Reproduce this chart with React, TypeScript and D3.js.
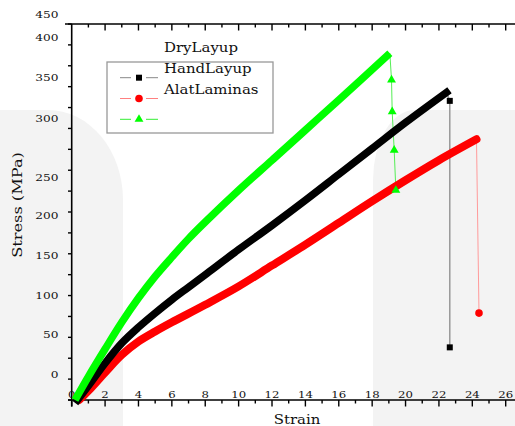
import React from "react";
import * as d3 from "d3";

// ---- data ----
const strainTicks = d3.range(0, 27, 1);
const strainLabels = d3.range(0, 27, 2);
const stressTicks = d3.range(0, 451, 25);
const stressLabels = [0, 50, 100, 150, 200, 250, 300, 350, 400, 450];
const legendLabels = ["DryLayup", "HandLayup", "AlatLaminas"];

// [strain, stress]
const greenCurve: [number, number][] = [
  [0.2, 0], [1, 28], [2, 61], [3, 93], [4, 122], [5, 148], [6, 171], [7, 193],
  [8, 213], [10, 251], [12, 287], [14, 323], [16, 359], [19.06, 415],
];
const greenTail: [number, number][] = [
  [19.16, 383], [19.2, 345], [19.32, 299], [19.42, 251],
];
const blackCurve: [number, number][] = [
  [0.35, 0], [1, 17], [2, 44], [3, 68], [4, 87], [5, 104], [6, 120], [7, 135],
  [8, 150], [10, 180], [12, 209], [14, 239], [16, 270], [18, 301], [20, 332],
  [22.45, 368],
];
const blackTail: [number, number][] = [[22.65, 358], [22.65, 63]];
const redCurve: [number, number][] = [
  [0.45, 0], [1, 11], [2, 33], [3, 54], [4, 70], [5, 82], [6, 93], [8, 114],
  [10, 136], [12, 161], [14, 186], [16, 212], [18, 238], [20, 263], [22, 287],
  [24.25, 312],
];
const redTail: [number, number][] = [[24.4, 104]];

const FONT = "'DejaVu Serif', serif";

function SText({ x, y, sx = 1, size, anchor = "start", rotate = 0, children }: any) {
  return (
    <text
      transform={`translate(${x},${y}) rotate(${rotate}) scale(${sx},1)`}
      textAnchor={anchor}
      fontFamily={FONT}
      fontSize={size}
      fill="#111"
    >
      {children}
    </text>
  );
}

export default function App() {
  const W = 515, H = 426;
  const x = d3.scaleLinear().domain([0, 26]).range([71.7, 505.7]);
  const y = d3.scaleLinear().domain([0, 450]).range([400, 24]);
  // label placement as it appears in the figure
  const labelY = d3
    .scaleLinear()
    .domain([0, 200, 250, 300, 400, 450])
    .range([375, 215.7, 177.3, 119, 37.3, 15]);

  const thick = d3
    .line<[number, number]>()
    .x((d) => x(d[0]))
    .y((d) => y(d[1]))
    .curve(d3.curveCatmullRom.alpha(0.5));
  const thin = d3
    .line<[number, number]>()
    .x((d) => x(d[0]))
    .y((d) => y(d[1]));

  const tri = d3.symbol().type(d3.symbolTriangle).size(34)() as string;

  const legendRow = (i: number) => 77.7 + 20.8 * i;

  return (
    <svg
      width={W}
      height={H}
      style={{ position: "absolute", left: 0, top: 0 }}
    >
      {/* background */}
      <rect x={0} y={0} width={W} height={H} fill="#ffffff" />
      <path d="M0,110 L48,110 A75,90 0 0 1 123,200 L123,426 L0,426 Z" fill="#f3f3f3" />
      <path d="M515,110 L415,110 A42,70 0 0 0 373,180 L373,426 L515,426 Z" fill="#f3f3f3" />

      {/* axes */}
      <line x1={71.7} y1={24} x2={71.7} y2={406.5} stroke="#000" strokeWidth={1.6} />
      <line x1={65} y1={24} x2={W} y2={24} stroke="#000" strokeWidth={1.6} />
      <line x1={68} y1={400} x2={W} y2={400} stroke="#000" strokeWidth={1.6} />
      {stressTicks.map((v) => (
        <line key={"yt" + v} x1={68} x2={71.7} y1={y(v)} y2={y(v)} stroke="#000" strokeWidth={1.4} />
      ))}
      {strainTicks.map((v) => (
        <g key={"xt" + v}>
          <line x1={x(v)} x2={x(v)} y1={400} y2={v % 2 === 0 ? 406.5 : 403.5} stroke="#000" strokeWidth={1.4} />
          {v > 0 && (
            <line x1={x(v)} x2={x(v)} y1={24} y2={v % 2 === 0 ? 30.5 : 27.5} stroke="#000" strokeWidth={1.4} />
          )}
        </g>
      ))}
      {strainLabels.map((v) => (
        <SText key={"xl" + v} x={x(v)} y={397.5} sx={1.3} size={9} anchor="middle">
          {v}
        </SText>
      ))}
      {stressLabels.map((v) => (
        <SText key={"yl" + v} x={58.5} y={labelY(v) + 3.3} sx={1.35} size={9} anchor="end">
          {v}
        </SText>
      ))}
      <SText x={297} y={424} sx={1.15} size={13} anchor="middle">Strain</SText>
      <SText x={22} y={205} sx={1.2} size={13.5} anchor="middle" rotate={-90}>Stress (MPa)</SText>

      {/* thin drop lines */}
      <path d={thin([greenCurve[greenCurve.length - 1], ...greenTail]) as string} fill="none" stroke="#55ee55" strokeWidth={1} />
      <path d={thin([blackCurve[blackCurve.length - 1], ...blackTail]) as string} fill="none" stroke="#999" strokeWidth={1.5} />
      <path d={thin([redCurve[redCurve.length - 1], ...redTail]) as string} fill="none" stroke="#ff9a9a" strokeWidth={1} />

      {/* thick curves */}
      <path d={thick(redCurve) as string} fill="none" stroke="#ff0000" strokeWidth={8} strokeLinecap="round" strokeLinejoin="round" />
      <path d={thick(blackCurve) as string} fill="none" stroke="#000" strokeWidth={7.5} strokeLinecap="square" strokeLinejoin="round" />
      <path d={thick(greenCurve) as string} fill="none" stroke="#00ff00" strokeWidth={7.5} strokeLinecap="butt" strokeLinejoin="round" />

      {/* tail markers */}
      {greenTail.map((d, i) => (
        <path key={"gt" + i} d={tri} transform={`translate(${x(d[0])},${y(d[1])})`} fill="#00ff00" />
      ))}
      {blackTail.map((d, i) => (
        <rect key={"bt" + i} x={x(d[0]) - 3} y={y(d[1]) - 3} width={6} height={6} fill="#000" />
      ))}
      {redTail.map((d, i) => (
        <circle key={"rt" + i} cx={x(d[0])} cy={y(d[1])} r={3.8} fill="#ff0000" />
      ))}

      {/* legend */}
      <rect x={107} y={62} width={166} height={71} fill="none" stroke="#999" strokeWidth={1.3} />
      {["#888", "#ff8080", "#33ee33"].map((c, i) => (
        <g key={"lg" + i}>
          <line x1={120} x2={131} y1={legendRow(i)} y2={legendRow(i)} stroke={c} strokeWidth={1} />
          <line x1={146} x2={158} y1={legendRow(i)} y2={legendRow(i)} stroke={c} strokeWidth={1} />
        </g>
      ))}
      <rect x={136} y={legendRow(0) - 3} width={6} height={6} fill="#000" />
      <circle cx={139} cy={legendRow(1)} r={3.8} fill="#ff0000" />
      <path d={tri} transform={`translate(139,${legendRow(2)})`} fill="#00ff00" />
      {legendLabels.map((t, i) => (
        <SText key={"lt" + i} x={164} y={legendRow(i) - 25.5} sx={1.15} size={13}>
          {t}
        </SText>
      ))}
    </svg>
  );
}
